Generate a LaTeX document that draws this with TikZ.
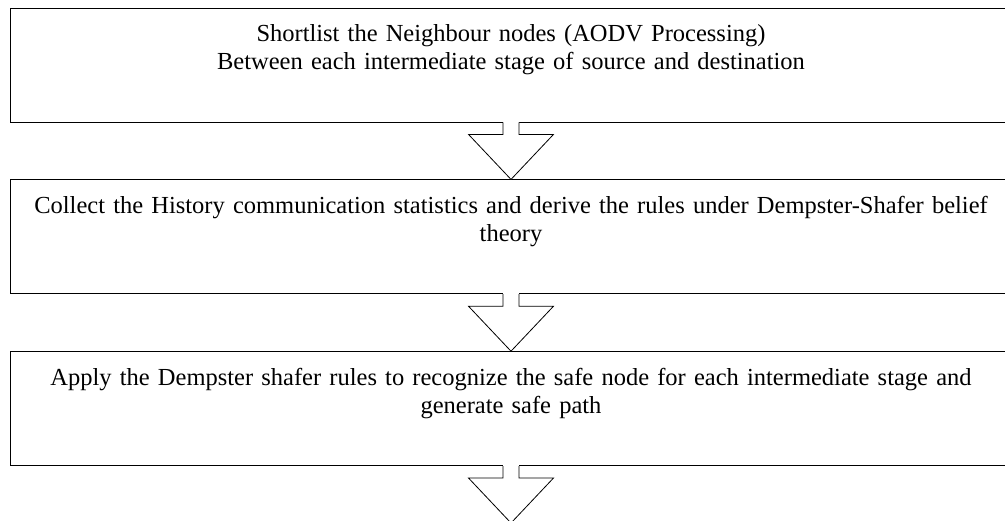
\documentclass[tikz,border=0pt]{standalone}
\usepackage{fontspec}
\setmainfont{Liberation Serif}
\usetikzlibrary{positioning,calc}

\tikzset{
  stage/.style={draw, line width=0.8pt, minimum width=1002pt, minimum height=114pt, inner sep=0pt},
  stagetext/.style={text width=1000pt, align=center, inner sep=0pt, font=\fontsize{24.5}{28}\selectfont},
  flow/.style={line width=0.8pt, fill=white, line join=miter}
}

% hollow block arrow from the bottom of one stage to the top of the next
\newcommand{\flowarrow}[2]{%
  \fill[white] ($(#1.south)+(-7.6,-1)$) rectangle ($(#1.south)+(7.6,1)$);
  \filldraw[flow] ($(#1.south)+(-8,0)$) -- ($(#1.south)+(-8,12)$)
     -- ($(#1.south)+(-42.5,12)$) -- (#2.north) -- ($(#1.south)+(42.5,12)$)
     -- ($(#1.south)+(8,12)$) -- ($(#1.south)+(8,0)$);
}

\begin{document}
\begin{tikzpicture}[x=1pt,y=-1pt]

	\useasboundingbox (0,0) rectangle (1005,520);

	\node[stage] (s1) at (511,65) {};
	\node[stage, below=57pt of s1] (s2) {};
	\node[stage, below=57pt of s2] (s3) {};

	\node[stagetext, below=17pt of s1.north] (t1)
	  {Shortlist the Neighbour nodes (AODV Processing)\\
	   Between each intermediate stage of source and destination};
	\node[stagetext, below=17pt of s2.north] (t2)
	  {Collect the History communication statistics and derive the rules under Dempster-Shafer belief\\
	   theory};
	\node[stagetext, below=17pt of s3.north] (t3)
	  {Apply the Dempster shafer rules to recognize the safe node for each intermediate stage and\\
	   generate safe path};

	\coordinate (sink) at ($(s3.south)+(0,57)$);

	\flowarrow{s1}{s2}
	\flowarrow{s2}{s3}
	%last one points off the page
	\fill[white] ($(s3.south)+(-7.6,-1)$) rectangle ($(s3.south)+(7.6,1)$);
	\filldraw[flow] ($(s3.south)+(-8,0)$) -- ($(s3.south)+(-8,12)$)
	   -- ($(s3.south)+(-42.5,12)$) -- (sink) -- ($(s3.south)+(42.5,12)$)
	   -- ($(s3.south)+(8,12)$) -- ($(s3.south)+(8,0)$);

\end{tikzpicture}
\end{document}
